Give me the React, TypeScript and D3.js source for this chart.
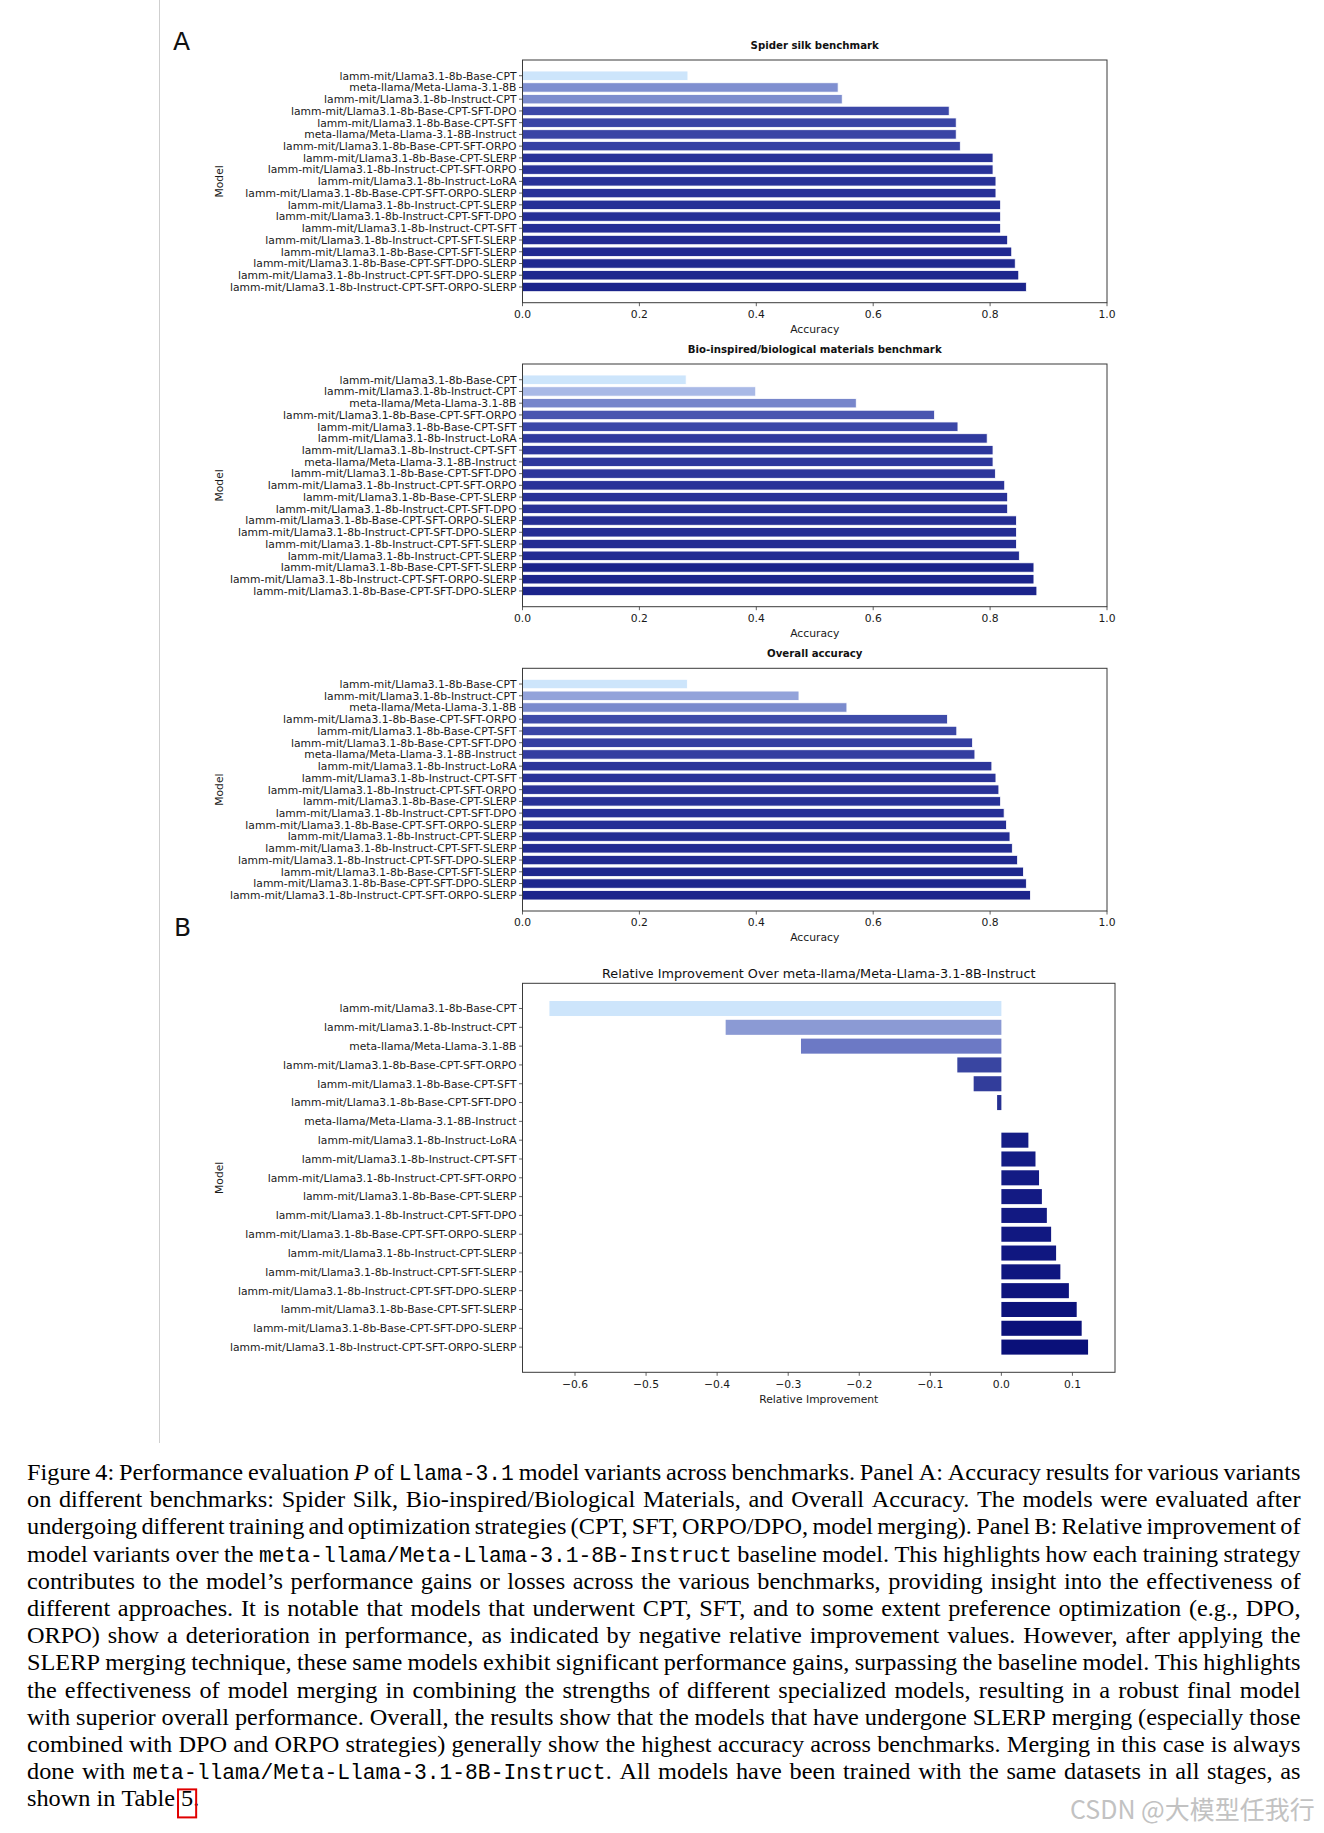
import React, { useEffect, useRef } from 'react';
import * as d3 from 'd3';

const W = 1324;
const H = 1833;

// ---- data ----
const spiderModels = [
  'lamm-mit/Llama3.1-8b-Base-CPT',
  'meta-llama/Meta-Llama-3.1-8B',
  'lamm-mit/Llama3.1-8b-Instruct-CPT',
  'lamm-mit/Llama3.1-8b-Base-CPT-SFT-DPO',
  'lamm-mit/Llama3.1-8b-Base-CPT-SFT',
  'meta-llama/Meta-Llama-3.1-8B-Instruct',
  'lamm-mit/Llama3.1-8b-Base-CPT-SFT-ORPO',
  'lamm-mit/Llama3.1-8b-Base-CPT-SLERP',
  'lamm-mit/Llama3.1-8b-Instruct-CPT-SFT-ORPO',
  'lamm-mit/Llama3.1-8b-Instruct-LoRA',
  'lamm-mit/Llama3.1-8b-Base-CPT-SFT-ORPO-SLERP',
  'lamm-mit/Llama3.1-8b-Instruct-CPT-SLERP',
  'lamm-mit/Llama3.1-8b-Instruct-CPT-SFT-DPO',
  'lamm-mit/Llama3.1-8b-Instruct-CPT-SFT',
  'lamm-mit/Llama3.1-8b-Instruct-CPT-SFT-SLERP',
  'lamm-mit/Llama3.1-8b-Base-CPT-SFT-SLERP',
  'lamm-mit/Llama3.1-8b-Base-CPT-SFT-DPO-SLERP',
  'lamm-mit/Llama3.1-8b-Instruct-CPT-SFT-DPO-SLERP',
  'lamm-mit/Llama3.1-8b-Instruct-CPT-SFT-ORPO-SLERP',
];
const spiderAcc = [0.283, 0.54, 0.547, 0.73, 0.742, 0.742, 0.749, 0.805, 0.805, 0.81, 0.81, 0.818, 0.818, 0.818, 0.83, 0.837, 0.843, 0.849, 0.862];

const bioModels = [
  'lamm-mit/Llama3.1-8b-Base-CPT',
  'lamm-mit/Llama3.1-8b-Instruct-CPT',
  'meta-llama/Meta-Llama-3.1-8B',
  'lamm-mit/Llama3.1-8b-Base-CPT-SFT-ORPO',
  'lamm-mit/Llama3.1-8b-Base-CPT-SFT',
  'lamm-mit/Llama3.1-8b-Instruct-LoRA',
  'lamm-mit/Llama3.1-8b-Instruct-CPT-SFT',
  'meta-llama/Meta-Llama-3.1-8B-Instruct',
  'lamm-mit/Llama3.1-8b-Base-CPT-SFT-DPO',
  'lamm-mit/Llama3.1-8b-Instruct-CPT-SFT-ORPO',
  'lamm-mit/Llama3.1-8b-Base-CPT-SLERP',
  'lamm-mit/Llama3.1-8b-Instruct-CPT-SFT-DPO',
  'lamm-mit/Llama3.1-8b-Base-CPT-SFT-ORPO-SLERP',
  'lamm-mit/Llama3.1-8b-Instruct-CPT-SFT-DPO-SLERP',
  'lamm-mit/Llama3.1-8b-Instruct-CPT-SFT-SLERP',
  'lamm-mit/Llama3.1-8b-Instruct-CPT-SLERP',
  'lamm-mit/Llama3.1-8b-Base-CPT-SFT-SLERP',
  'lamm-mit/Llama3.1-8b-Instruct-CPT-SFT-ORPO-SLERP',
  'lamm-mit/Llama3.1-8b-Base-CPT-SFT-DPO-SLERP',
];
const bioAcc = [0.28, 0.399, 0.571, 0.705, 0.745, 0.795, 0.805, 0.805, 0.809, 0.825, 0.83, 0.83, 0.845, 0.845, 0.845, 0.85, 0.875, 0.875, 0.88];

const overallModels = [
  'lamm-mit/Llama3.1-8b-Base-CPT',
  'lamm-mit/Llama3.1-8b-Instruct-CPT',
  'meta-llama/Meta-Llama-3.1-8B',
  'lamm-mit/Llama3.1-8b-Base-CPT-SFT-ORPO',
  'lamm-mit/Llama3.1-8b-Base-CPT-SFT',
  'lamm-mit/Llama3.1-8b-Base-CPT-SFT-DPO',
  'meta-llama/Meta-Llama-3.1-8B-Instruct',
  'lamm-mit/Llama3.1-8b-Instruct-LoRA',
  'lamm-mit/Llama3.1-8b-Instruct-CPT-SFT',
  'lamm-mit/Llama3.1-8b-Instruct-CPT-SFT-ORPO',
  'lamm-mit/Llama3.1-8b-Base-CPT-SLERP',
  'lamm-mit/Llama3.1-8b-Instruct-CPT-SFT-DPO',
  'lamm-mit/Llama3.1-8b-Base-CPT-SFT-ORPO-SLERP',
  'lamm-mit/Llama3.1-8b-Instruct-CPT-SLERP',
  'lamm-mit/Llama3.1-8b-Instruct-CPT-SFT-SLERP',
  'lamm-mit/Llama3.1-8b-Instruct-CPT-SFT-DPO-SLERP',
  'lamm-mit/Llama3.1-8b-Base-CPT-SFT-SLERP',
  'lamm-mit/Llama3.1-8b-Base-CPT-SFT-DPO-SLERP',
  'lamm-mit/Llama3.1-8b-Instruct-CPT-SFT-ORPO-SLERP',
];
const overallAcc = [0.282, 0.473, 0.555, 0.727, 0.743, 0.77, 0.774, 0.803, 0.81, 0.815, 0.818, 0.824, 0.828, 0.834, 0.838, 0.847, 0.857, 0.862, 0.869];

const relModels = overallModels;
const relImprovement = [-0.636, -0.388, -0.282, -0.062, -0.039, -0.006, 0, 0.038, 0.048, 0.053, 0.057, 0.064, 0.07, 0.077, 0.083, 0.095, 0.106, 0.113, 0.122];

const accTicks = [0, 0.2, 0.4, 0.6, 0.8, 1.0];
const relTicks = [-0.6, -0.5, -0.4, -0.3, -0.2, -0.1, 0, 0.1];

const captionLines = [
  'Figure 4: Performance evaluation *P* of `Llama-3.1` model variants across benchmarks. Panel A: Accuracy results for various variants',
  'on different benchmarks: Spider Silk, Bio-inspired/Biological Materials, and Overall Accuracy. The models were evaluated after',
  'undergoing different training and optimization strategies (CPT, SFT, ORPO/DPO, model merging). Panel B: Relative improvement of',
  'model variants over the `meta-llama/Meta-Llama-3.1-8B-Instruct` baseline model. This highlights how each training strategy',
  'contributes to the model\u2019s performance gains or losses across the various benchmarks, providing insight into the effectiveness of',
  'different approaches. It is notable that models that underwent CPT, SFT, and to some extent preference optimization (e.g., DPO,',
  'ORPO) show a deterioration in performance, as indicated by negative relative improvement values. However, after applying the',
  'SLERP merging technique, these same models exhibit significant performance gains, surpassing the baseline model. This highlights',
  'the effectiveness of model merging in combining the strengths of different specialized models, resulting in a robust final model',
  'with superior overall performance. Overall, the results show that the models that have undergone SLERP merging (especially those',
  'combined with DPO and ORPO strategies) generally show the highest accuracy across benchmarks. Merging in this case is always',
  'done with `meta-llama/Meta-Llama-3.1-8B-Instruct`. All models have been trained with the same datasets in all stages, as',
  'shown in Table [5].',
];

const FONT = 'DejaVu Sans, sans-serif';
const LEFT = 522.5;
const TICK_PX = '10.75px';

// light blue -> periwinkle -> indigo -> navy
const cmapA = d3
  .scaleLinear<string>()
  .domain([0, 0.2, 0.45, 0.77, 0.9, 1])
  .range(['#cde5fb', '#a9b9e6', '#7e8ecf', '#3c48a8', '#2a3399', '#1b248b'])
  .clamp(true);
const cmapB = d3
  .scaleLinear<string>()
  .domain([0, 0.33, 0.47, 0.77, 0.89, 1])
  .range(['#cde5fb', '#8a99d4', '#6b78c5', '#37439f', '#151d86', '#0a1079'])
  .clamp(true);

const drawPanel = (svg, cfg) => {
  const { models, values, top, bottom, right, domain, ticks, fmt, title, titleBold, titleSize, titleDy, xlabel, edge, cmap } = cfg;
  const x = d3.scaleLinear().domain(domain).range([LEFT, right]);
  const y = d3.scaleBand().domain(models).range([top, bottom]).paddingInner(0.2).paddingOuter(0.94);
  const [vmin, vmax] = d3.extent(values) as [number, number];
  const t = d3.scaleLinear().domain([vmin, vmax]).range([0, 1]);

  const g = svg.append('g');

  g.selectAll('rect.bar')
    .data(values)
    .enter()
    .append('rect')
    .attr('x', d => x(Math.min(0, d)))
    .attr('width', d => Math.abs(x(d) - x(0)))
    .attr('y', (d, i) => y(models[i]))
    .attr('height', y.bandwidth())
    .attr('fill', d => cmap(t(d)))
    .attr('stroke', edge ? '#ffffff' : 'none')
    .attr('stroke-width', edge ? 0.8 : 0);

  // frame
  g.append('rect')
    .attr('x', LEFT)
    .attr('y', top)
    .attr('width', right - LEFT)
    .attr('height', bottom - top)
    .attr('fill', 'none')
    .attr('stroke', '#3a3a3a')
    .attr('stroke-width', 1);

  // y ticks + labels
  const yt = g.selectAll('g.ytick').data(models).enter().append('g')
    .attr('transform', d => `translate(0,${y(d) + y.bandwidth() / 2})`);
  yt.append('line').attr('x1', LEFT - 3.5).attr('x2', LEFT).attr('stroke', '#3a3a3a').attr('stroke-width', 0.8);
  yt.append('text')
    .attr('x', LEFT - 6)
    .attr('dy', '0.36em')
    .attr('text-anchor', 'end')
    .style('font-family', FONT)
    .style('font-size', TICK_PX)
    .style('fill', '#1a1a1a')
    .text(d => d);

  // x ticks + labels
  const xt = g.selectAll('g.xtick').data(ticks).enter().append('g')
    .attr('transform', d => `translate(${x(d)},${bottom})`);
  xt.append('line').attr('y1', 0).attr('y2', 3.5).attr('stroke', '#3a3a3a').attr('stroke-width', 0.8);
  xt.append('text')
    .attr('y', cfg.tickY)
    .attr('dy', '0.36em')
    .attr('text-anchor', 'middle')
    .style('font-family', FONT)
    .style('font-size', TICK_PX)
    .style('fill', '#1a1a1a')
    .text(fmt);

  g.append('text')
    .attr('x', (LEFT + right) / 2)
    .attr('y', bottom + cfg.xlabelY)
    .attr('dy', '0.36em')
    .attr('text-anchor', 'middle')
    .style('font-family', FONT)
    .style('font-size', TICK_PX)
    .style('fill', '#1a1a1a')
    .text(xlabel);

  g.append('text')
    .attr('transform', `translate(219,${(top + bottom) / 2}) rotate(-90)`)
    .attr('dy', '0.36em')
    .attr('text-anchor', 'middle')
    .style('font-family', FONT)
    .style('font-size', TICK_PX)
    .style('fill', '#1a1a1a')
    .text('Model');

  g.append('text')
    .attr('x', (LEFT + right) / 2)
    .attr('y', top - titleDy)
    .attr('dy', '0.36em')
    .attr('text-anchor', 'middle')
    .style('font-family', FONT)
    .style('font-size', titleSize)
    .style('font-weight', titleBold ? 'bold' : 'normal')
    .style('fill', '#111')
    .text(title);
};

const parseLine = (line: string) => {
  const words = [];
  let cur = [];
  let mode = 'n';
  let buf = '';
  const flush = () => {
    if (buf) cur.push({ t: buf, s: mode });
    buf = '';
  };
  for (const ch of line) {
    if (ch === '`') { flush(); mode = mode === 'm' ? 'n' : 'm'; }
    else if (ch === '*') { flush(); mode = mode === 'i' ? 'n' : 'i'; }
    else if (ch === '[') { flush(); mode = 'b'; }
    else if (ch === ']') { flush(); mode = 'n'; }
    else if (ch === ' ' && mode !== 'm') { flush(); if (cur.length) words.push(cur); cur = []; }
    else buf += ch;
  }
  flush();
  if (cur.length) words.push(cur);
  return words;
};

const App = () => {
  const ref = useRef(null);

  useEffect(() => {
    document.body.style.margin = '0';
    const svg = d3.select(ref.current);
    svg.selectAll('*').remove();

    svg.append('rect').attr('width', W).attr('height', H).attr('fill', '#fff');

    // thin page rule on the left of the figure
    svg.append('line')
      .attr('x1', 159.5).attr('x2', 159.5).attr('y1', 0).attr('y2', 1443)
      .attr('stroke', '#cfcfcf').attr('stroke-width', 1);

    const panelLetter = (txt, x, y) =>
      svg.append('text').attr('x', x).attr('y', y)
        .style('font-family', FONT).style('font-size', '25px').style('fill', '#111').text(txt);
    panelLetter('A', 173, 50);
    panelLetter('B', 174, 936);

    const accFmt = d => d3.format('.1f')(d);
    const common = { right: 1107, domain: [0, 1], ticks: accTicks, fmt: accFmt, titleBold: true, titleSize: '10.2px', titleDy: 15, xlabel: 'Accuracy', edge: true, tickY: 11, xlabelY: 26, cmap: cmapA };

    drawPanel(svg, { ...common, models: spiderModels, values: spiderAcc, top: 60, bottom: 302.7, title: 'Spider silk benchmark' });
    drawPanel(svg, { ...common, models: bioModels, values: bioAcc, top: 364, bottom: 606.7, title: 'Bio-inspired/biological materials benchmark' });
    drawPanel(svg, { ...common, models: overallModels, values: overallAcc, top: 668.3, bottom: 911, title: 'Overall accuracy' });

    const rmin = Math.min(0, d3.min(relImprovement));
    const rmax = Math.max(0, d3.max(relImprovement));
    const pad = (rmax - rmin) * 0.05;
    drawPanel(svg, {
      models: relModels, values: relImprovement, top: 983.3, bottom: 1372.3, right: 1115,
      domain: [rmin - pad, rmax + pad], ticks: relTicks,
      fmt: d => d3.format('.1f')(d).replace('-', '\u2212'),
      title: 'Relative Improvement Over meta-llama/Meta-Llama-3.1-8B-Instruct',
      titleBold: false, titleSize: '12.8px', titleDy: 10,
      xlabel: 'Relative Improvement', edge: false, tickY: 12, xlabelY: 27, cmap: cmapB,
    });

    // caption, justified line by line; the serif face is a touch wider in the source
    const capLeft = 27;
    const capRight = 1300.5;
    const base0 = 1480;
    const lineStep = 27.2;
    const SX = 1.08;
    const serif = 'Liberation Serif, Times New Roman, serif';
    const mono = 'Liberation Mono, monospace';
    const cap = svg.append('g');

    captionLines.forEach((line, li) => {
      const words = parseLine(line);
      const yb = base0 + li * lineStep;
      const items = words.map(runs => {
        const pieces = runs.map(r => {
          const isMono = r.s === 'm';
          const tx = cap.append('text')
            .style('fill', '#000')
            .style('font-family', isMono ? mono : serif)
            .style('font-size', isMono ? '21.3px' : '22.5px')
            .style('font-style', r.s === 'i' ? 'italic' : 'normal')
            .text(r.t);
          const sx = isMono ? 1 : SX;
          const w = (tx.node() as any).getComputedTextLength() * sx;
          return { tx, r, sx, w };
        });
        return { pieces, w: d3.sum(pieces, p => p.w) };
      });
      const total = d3.sum(items, d => d.w);
      const last = li === captionLines.length - 1;
      const gap = last || items.length < 2 ? 6 : (capRight - capLeft - total) / (items.length - 1);
      let cx = capLeft;
      items.forEach(it => {
        let off = 0;
        it.pieces.forEach(p => {
          p.tx.attr('transform', `translate(${cx + off},${yb}) scale(${p.sx},1)`);
          if (p.r.s === 'b') {
            cap.append('rect')
              .attr('x', cx + off - 3).attr('y', yb - 17)
              .attr('width', p.w + 6).attr('height', 28)
              .attr('fill', 'none').attr('stroke', '#e00000').attr('stroke-width', 2);
          }
          off += p.w;
        });
        cx += it.w + gap;
      });
    });

    svg.append('text')
      .attr('x', 1070).attr('y', 1819)
      .style('font-family', 'Noto Sans CJK SC, sans-serif')
      .style('font-size', '25px')
      .style('fill', '#c2c2c2')
      .text('CSDN @\u5927\u6a21\u578b\u4efb\u6211\u884c');
  }, []);

  return <svg ref={ref} width={W} height={H} style={{ display: 'block' }} />;
};

export default App;
